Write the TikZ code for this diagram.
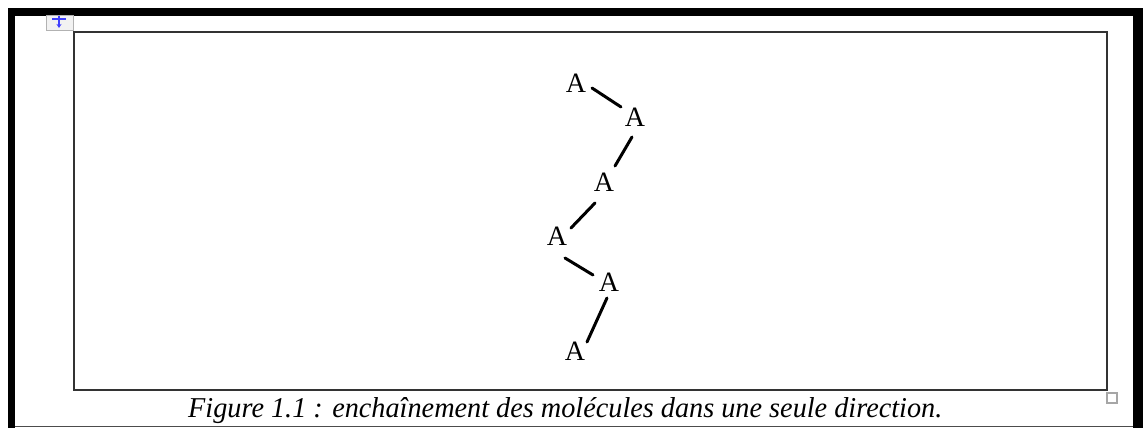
\documentclass[tikz,border=0pt]{standalone}
\usepackage{fontspec}
\setmainfont{Liberation Serif}
\usepackage{graphicx}
\usetikzlibrary{arrows.meta}
\begin{document}
\begin{tikzpicture}[x=1pt,y=-1pt,
  atom/.style={inner sep=0pt, font=\fontsize{28}{28}\selectfont},
  bond/.style={line width=3pt, line cap=round},
  frameline/.style={fill=black},
  ]
\useasboundingbox (0,0) rectangle (1143,428);
% outer black frame
\fill[frameline] (8,8) rectangle (1143,16);
\fill[frameline] (8,8) rectangle (15,428);
\fill[frameline] (1133,8) rectangle (1143,428);
\draw[black!70, line width=1pt] (15,426.5) -- (1133,426.5);
% move handle icon
\draw[gray!60, fill=gray!10, line width=1pt] (46,16) rectangle (73,31);
\draw[blue!75, line width=1.3pt] (52,19) -- (66,19);
\draw[blue!75, line width=1.3pt, -{Stealth[length=4pt,width=5pt]}] (59,16) -- (59,28);
% inner frame
\draw[black!80, line width=2pt] (74,32) rectangle (1107,390);
% resize handle
\draw[gray!70, line width=1.5pt] (1107,393) rectangle (1117,403);
% atoms
\node[atom] (a1) at (576,83.5) {A};
\node[atom] (a2) at (635,117.5) {A};
\node[atom] (a3) at (604,182) {A};
\node[atom] (a4) at (557,236) {A};
\node[atom] (a5) at (609,282) {A};
\node[atom] (a6) at (575,351) {A};
% bonds
\draw[bond] ([shift={(16,4.5)}]a1.center) -- ([shift={(-14,-10.5)}]a2.center);
\draw[bond] ([shift={(-3,19.5)}]a2.center) -- ([shift={(11,-16)}]a3.center);
\draw[bond] ([shift={(-9,21)}]a3.center) -- ([shift={(14,-8)}]a4.center);
\draw[bond] ([shift={(8,22)}]a4.center) -- ([shift={(-16,-7)}]a5.center);
\draw[bond] ([shift={(-2,16)}]a5.center) -- ([shift={(12,-9)}]a6.center);
% caption
\node[anchor=base west, inner sep=0pt] (cap) at (188,417)
  {\resizebox{754pt}{20pt}{\itshape Figure 1.1 : enchaînement des molécules dans une seule direction.}};
\end{tikzpicture}
\end{document}
